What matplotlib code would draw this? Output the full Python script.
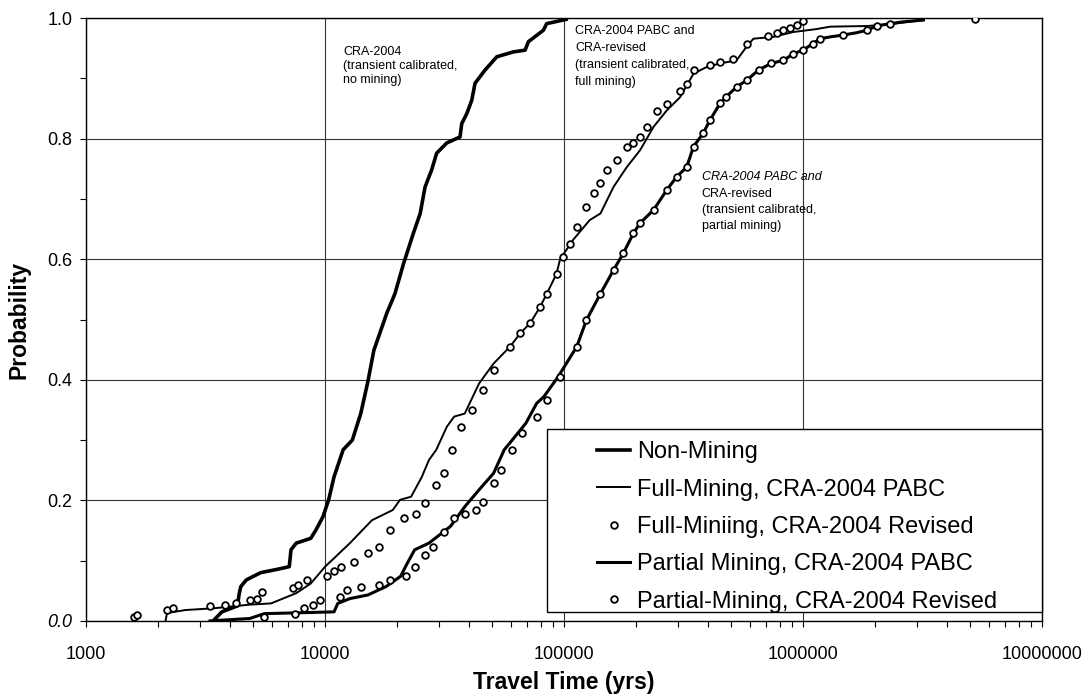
import matplotlib
matplotlib.use("Agg")
import matplotlib.pyplot as plt
from matplotlib.patches import Rectangle
from matplotlib.ticker import LogLocator, FixedLocator, FuncFormatter, MultipleLocator

plt.rcParams['font.family'] = ['Liberation Sans', 'DejaVu Sans']

# travel time (yrs) and cumulative probability
non_mining_t = [3400, 3700, 4300, 4370, 4440, 4680, 5370, 6380, 7080, 7200, 7570,
                8710, 9160, 9800, 10350, 10900, 11900, 13000, 14100, 15100, 16000,
                18100, 19600, 21300, 22000, 23400, 25000, 26200, 27900, 29300,
                32300, 36700, 37300, 39200, 41100, 42400, 46700, 52300, 61200,
                68700, 70900, 81900, 84600, 102000]
non_mining_p = [0.0, 0.015, 0.025, 0.045, 0.057, 0.068, 0.080, 0.086, 0.090, 0.118,
                0.129, 0.137, 0.151, 0.173, 0.201, 0.239, 0.284, 0.300, 0.344,
                0.397, 0.449, 0.510, 0.543, 0.593, 0.610, 0.643, 0.676, 0.720,
                0.748, 0.776, 0.793, 0.803, 0.825, 0.842, 0.864, 0.892, 0.914,
                0.936, 0.944, 0.947, 0.961, 0.980, 0.991, 0.998]

full_pabc_t = [2150, 2180, 2600, 3430, 4840, 5940, 7570, 8710, 10000, 10900, 12700,
               15700, 19200, 20600, 22900, 25400, 27200, 29200, 32300, 34700,
               38400, 44100, 50700, 59400, 65500, 72100, 79400, 84700, 93000,
               96200, 109000, 128000, 142000, 161000, 183000, 208000, 237000,
               269000, 306000, 348000, 395000, 450000, 527000, 581000, 620000,
               751000, 908000, 1140000, 1300000, 1850000, 2310000, 3190000]
full_pabc_p = [0.0, 0.013, 0.018, 0.021, 0.027, 0.029, 0.046, 0.062, 0.090, 0.104,
               0.129, 0.167, 0.184, 0.201, 0.206, 0.239, 0.267, 0.284, 0.322,
               0.339, 0.344, 0.394, 0.427, 0.455, 0.477, 0.494, 0.521, 0.543,
               0.576, 0.600, 0.632, 0.665, 0.676, 0.720, 0.753, 0.781, 0.820,
               0.847, 0.869, 0.908, 0.919, 0.925, 0.930, 0.953, 0.966, 0.969,
               0.977, 0.982, 0.986, 0.987, 0.990, 0.997]

full_rev_t = [1580, 1630, 2190, 2300, 3310, 3800, 4220, 4840, 5190, 5470, 7330,
              7720, 8410, 10200, 10900, 11700, 13200, 15100, 16800, 18600, 21400,
              24100, 26300, 29200, 31300, 34100, 37100, 41200, 45700, 50700,
              59400, 65500, 72100, 79400, 84700, 93000, 99000, 106000, 113000,
              124000, 133000, 142000, 151000, 166000, 183000, 195000, 208000,
              222000, 244000, 269000, 306000, 326000, 348000, 408000, 450000,
              511000, 581000, 716000, 776000, 827000, 883000, 942000, 1000000]
full_rev_p = [0.007, 0.010, 0.018, 0.021, 0.024, 0.026, 0.029, 0.035, 0.037, 0.048,
              0.054, 0.060, 0.068, 0.074, 0.082, 0.090, 0.098, 0.112, 0.123,
              0.151, 0.170, 0.178, 0.195, 0.225, 0.245, 0.284, 0.322, 0.350,
              0.383, 0.416, 0.455, 0.477, 0.494, 0.521, 0.543, 0.576, 0.604,
              0.626, 0.654, 0.687, 0.710, 0.726, 0.748, 0.765, 0.787, 0.793,
              0.803, 0.820, 0.846, 0.858, 0.880, 0.890, 0.914, 0.922, 0.928,
              0.933, 0.958, 0.970, 0.975, 0.980, 0.983, 0.989, 0.995]

partial_pabc_t = [3300, 4840, 5560, 10900, 11300, 12700, 15100, 18000, 20700, 22100,
                  23700, 27200, 33500, 38500, 44200, 50700, 56200, 62400, 69200,
                  76800, 82300, 94400, 113000, 124000, 142000, 161000, 177000,
                  195000, 208000, 237000, 269000, 296000, 326000, 348000, 382000,
                  408000, 450000, 478000, 527000, 581000, 651000, 735000, 827000,
                  912000, 1000000, 1100000, 1180000, 1300000, 1470000, 1680000,
                  1850000, 2030000, 2310000, 2630000, 3190000]
partial_pabc_p = [0.0, 0.004, 0.012, 0.015, 0.029, 0.037, 0.043, 0.057, 0.074, 0.096,
                  0.118, 0.129, 0.157, 0.190, 0.218, 0.245, 0.284, 0.306, 0.328,
                  0.361, 0.372, 0.405, 0.455, 0.499, 0.543, 0.582, 0.610, 0.643,
                  0.660, 0.682, 0.715, 0.737, 0.753, 0.787, 0.809, 0.831, 0.859,
                  0.870, 0.886, 0.897, 0.914, 0.925, 0.930, 0.941, 0.947, 0.958,
                  0.966, 0.969, 0.972, 0.976, 0.980, 0.987, 0.991, 0.994, 0.997]

partial_rev_t = [5560, 7460, 8130, 8870, 9500, 11500, 12300, 14100, 16800, 18600,
                 21700, 23700, 26300, 28200, 31300, 34700, 38500, 42700, 45700,
                 50700, 54300, 60300, 66800, 76800, 85100, 96000, 113000, 124000,
                 142000, 161000, 177000, 195000, 208000, 237000, 269000, 296000,
                 326000, 348000, 382000, 408000, 450000, 478000, 527000, 581000,
                 651000, 735000, 827000, 912000, 1000000, 1100000, 1180000,
                 1470000, 1850000, 2030000, 2310000, 5250000]
partial_rev_p = [0.007, 0.012, 0.021, 0.026, 0.035, 0.040, 0.051, 0.057, 0.060,
                 0.068, 0.074, 0.090, 0.110, 0.123, 0.148, 0.170, 0.178, 0.184,
                 0.198, 0.228, 0.250, 0.284, 0.311, 0.339, 0.367, 0.405, 0.455,
                 0.499, 0.543, 0.582, 0.610, 0.643, 0.660, 0.682, 0.715, 0.737,
                 0.753, 0.787, 0.809, 0.831, 0.859, 0.870, 0.886, 0.897, 0.914,
                 0.925, 0.930, 0.941, 0.947, 0.958, 0.966, 0.972, 0.980, 0.987,
                 0.991, 0.998]

x_ticks = [1000, 10000, 100000, 1000000, 10000000]
y_ticks = [0.0, 0.2, 0.4, 0.6, 0.8, 1.0]

fig = plt.figure(figsize=(10.9, 7), dpi=100)
ax = fig.add_axes([0.079, 0.113, 0.877, 0.861])

mk = dict(linestyle='none', marker='o', markersize=4.8, markerfacecolor='white',
          markeredgecolor='black', markeredgewidth=1.3)

ax.plot(non_mining_t, non_mining_p, color='black', lw=2.6, label='Non-Mining', zorder=3)
ax.plot(full_pabc_t, full_pabc_p, color='black', lw=1.4,
        label='Full-Mining, CRA-2004 PABC', zorder=3)
ax.plot(full_rev_t, full_rev_p, label='Full-Miniing, CRA-2004 Revised', zorder=4, **mk)
ax.plot(partial_pabc_t, partial_pabc_p, color='black', lw=2.2,
        label='Partial Mining, CRA-2004 PABC', zorder=3)
ax.plot(partial_rev_t, partial_rev_p, label='Partial-Mining, CRA-2004 Revised',
        zorder=4, **mk)

ax.set_xscale('log')
ax.set_xlim(1000, 10000000)
ax.set_ylim(0, 1.0)
ax.xaxis.set_major_locator(FixedLocator(x_ticks))
ax.xaxis.set_major_formatter(FuncFormatter(lambda v, p: f'{int(round(v))}'))
ax.xaxis.set_minor_locator(LogLocator(base=10, subs=range(2, 10)))
ax.yaxis.set_major_locator(FixedLocator(y_ticks))
ax.yaxis.set_major_formatter(FuncFormatter(lambda v, p: f'{v:.1f}'))
ax.yaxis.set_minor_locator(MultipleLocator(0.1))

ax.grid(which='major', color='#333333', lw=0.8, zorder=1)
ax.tick_params(which='both', direction='out', length=4, width=0.8)
ax.tick_params(axis='x', labelsize=13, pad=14)
ax.tick_params(axis='y', labelsize=13, pad=6)
for s in ax.spines.values():
    s.set_linewidth(1.0)
ax.get_yticklabels()[0].set_style('italic')

ax.set_xlabel('Travel Time (yrs)', fontsize=16.5, fontweight='bold')
ax.set_ylabel('Probability', fontsize=16.5, fontweight='bold')
ax.xaxis.set_label_coords(0.5, -0.083)
ax.yaxis.set_label_coords(-0.058, 0.5)

# annotations
ax.text(0.269, 0.954, 'CRA-2004\n(transient calibrated,\nno mining)',
        transform=ax.transAxes, fontsize=9, va='top', ha='left', linespacing=1.2)
ax.text(0.5115, 0.988, 'CRA-2004 PABC and\nCRA-revised\n(transient calibrated,\nfull mining)',
        transform=ax.transAxes, fontsize=9, va='top', ha='left', linespacing=1.55)
ax.text(0.644, 0.746, 'CRA-2004 PABC and', transform=ax.transAxes, fontsize=9,
        va='top', ha='left', style='italic')
ax.text(0.644, 0.719, 'CRA-revised\n(transient calibrated,\npartial mining)',
        transform=ax.transAxes, fontsize=9, va='top', ha='left', linespacing=1.45)

# legend box
ax.add_patch(Rectangle((0.482, 0.015), 0.518, 0.303, transform=ax.transAxes,
                       facecolor='white', edgecolor='black', lw=1.0, zorder=5,
                       clip_on=False))
leg = ax.legend(loc='upper left', bbox_to_anchor=(0.5345, 0.298), frameon=False,
                fontsize=17, handlelength=1.4, handletextpad=0.3, labelspacing=0.65,
                borderpad=0, borderaxespad=0, numpoints=1)
leg.set_zorder(6)

fig.savefig('out.png', dpi=100)
